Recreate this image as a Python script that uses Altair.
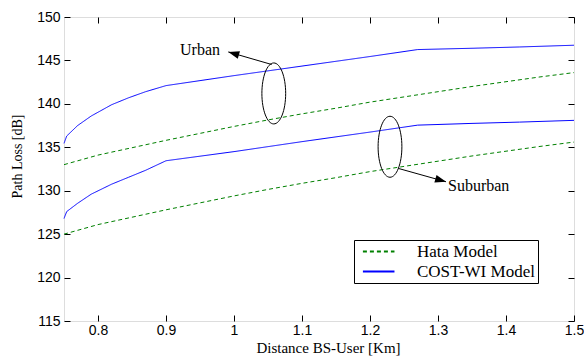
import altair as alt
import pandas as pd

# ---- data ----
dist_hata = [0.75, 0.8, 0.85, 0.9, 0.95, 1.0, 1.05, 1.1, 1.15, 1.2, 1.25, 1.3, 1.35, 1.4, 1.45, 1.5]
hata_urban = [133.0, 134.1, 134.95, 135.8, 136.6, 137.4, 138.15, 138.85, 139.5, 140.2, 140.8, 141.4, 142.0, 142.55, 143.1, 143.6]
hata_suburban = [125.0, 126.1, 126.95, 127.8, 128.6, 129.4, 130.15, 130.85, 131.5, 132.2, 132.8, 133.4, 134.0, 134.55, 135.1, 135.6]

dist_cost = [0.75, 0.754, 0.77, 0.79, 0.82, 0.845, 0.87, 0.9, 1.0, 1.1, 1.2, 1.27, 1.35, 1.42, 1.5]
cost_urban = [135.45, 136.3, 137.5, 138.6, 139.9, 140.7, 141.4, 142.1, 143.25, 144.35, 145.45, 146.25, 146.4, 146.55, 146.75]
cost_suburban = [126.8, 127.6, 128.55, 129.6, 130.75, 131.55, 132.35, 133.45, 134.5, 135.65, 136.75, 137.55, 137.75, 137.9, 138.1]

models = ["Hata Model", "COST-WI Model"]
model_colors = ["#008000", "#0000ff"]

x_ticks = [0.8, 0.9, 1.0, 1.1, 1.2, 1.3, 1.4, 1.5]
y_ticks = [115, 120, 125, 130, 135, 140, 145, 150]

# annotations (data units)
ann_text = ["Urban", "Suburban"]
ann_x = [0.9206, 1.3147]
ann_y = [146.25, 130.54]
ell_x = [1.0585, 1.2294]
ell_y = [141.2, 135.06]
arr_x = [1.0554, 1.2416]
arr_y = [144.53, 132.57]
arr_x2 = [0.9916, 1.3118]
arr_y2 = [145.98, 131.03]
arr_angle = [286, 106]

rows = []
for d, v in zip(dist_hata, hata_urban):
    rows.append({"d": d, "loss": v, "model": "Hata Model", "env": "Urban"})
for d, v in zip(dist_hata, hata_suburban):
    rows.append({"d": d, "loss": v, "model": "Hata Model", "env": "Suburban"})
for d, v in zip(dist_cost, cost_urban):
    rows.append({"d": d, "loss": v, "model": "COST-WI Model", "env": "Urban"})
for d, v in zip(dist_cost, cost_suburban):
    rows.append({"d": d, "loss": v, "model": "COST-WI Model", "env": "Suburban"})
df = pd.DataFrame(rows)

ann = pd.DataFrame({
    "text": ann_text, "tx": ann_x, "ty": ann_y,
    "ex": ell_x, "ey": ell_y,
    "ax": arr_x, "ay": arr_y, "ax2": arr_x2, "ay2": arr_y2, "angle": arr_angle,
})

xs = alt.Scale(domain=[0.75, 1.5], nice=False, zero=False)
ys = alt.Scale(domain=[115, 150], nice=False, zero=False)

x_axis = alt.Axis(
    values=x_ticks, format="~g", offset=-6, tickSize=6, domain=False, grid=False,
    labelFont="Liberation Sans", labelFontSize=14, labelColor="black", labelPadding=9,
    labelBaseline="middle", labelFlush=False, tickColor="black",
    title="Distance BS-User [Km]", titleFont="Liberation Serif", titleFontSize=15,
    titleFontWeight="normal", titleColor="black", titleX=264, titleY=32,
    titleBaseline="middle", titleAlign="center",
)
y_axis = alt.Axis(
    values=y_ticks, offset=-6, tickSize=6, domain=False, grid=False,
    labelFont="Liberation Sans", labelFontSize=14, labelColor="black", labelPadding=4,
    tickColor="black",
    title="Path Loss [dB]", titleFont="Liberation Serif", titleFontSize=14,
    titleFontWeight="normal", titleColor="black", titleX=-53, titleY=139,
    titleBaseline="middle", titleAlign="center", titleAngle=270,
)
x_top = alt.Axis(orient="top", values=x_ticks, offset=-6, tickSize=6, domain=False,
                 grid=False, labels=False, title=None, tickColor="black")
y_right = alt.Axis(orient="right", values=y_ticks, offset=-6, tickSize=6, domain=False,
                   grid=False, labels=False, title=None, tickColor="black")

legend = alt.Legend(
    title=None, orient="none", legendX=290, legendY=223,
    fillColor="white", strokeColor="black", padding=3, rowPadding=2,
    symbolType="M-0.37,0 L4.14,0", symbolSize=196, symbolStrokeWidth=2,
    labelFont="Liberation Serif", labelFontSize=17, labelColor="black",
    labelOffset=43,
)

lines = alt.Chart(df).mark_line(strokeWidth=1).encode(
    x=alt.X("d:Q", scale=xs, axis=x_axis),
    y=alt.Y("loss:Q", scale=ys, axis=y_axis),
    color=alt.Color("model:N", scale=alt.Scale(domain=models, range=model_colors), legend=legend),
    strokeDash=alt.StrokeDash("model:N", scale=alt.Scale(domain=models, range=[[4, 3], [1, 0]]), legend=legend),
    detail="env:N",
)

labels = alt.Chart(ann).mark_text(
    align="left", baseline="middle", font="Liberation Serif", fontSize=16, color="black"
).encode(
    x=alt.X("tx:Q", scale=xs, axis=x_top),
    y=alt.Y("ty:Q", scale=ys, axis=y_right),
    text="text:N",
)

ellipse_path = ("M0,-1 C0.2154,-1 0.39,-0.5523 0.39,0 C0.39,0.5523 0.2154,1 0,1 "
                "C-0.2154,1 -0.39,0.5523 -0.39,0 C-0.39,-0.5523 -0.2154,-1 0,-1 Z")
ellipses = alt.Chart(ann).mark_point(
    shape=ellipse_path, size=3720, filled=False, color="black", strokeWidth=1, opacity=1
).encode(
    x=alt.X("ex:Q", scale=xs, axis=None),
    y=alt.Y("ey:Q", scale=ys, axis=None),
)

arrows = alt.Chart(ann).mark_rule(color="black", strokeWidth=1).encode(
    x=alt.X("ax:Q", scale=xs, axis=None),
    y=alt.Y("ay:Q", scale=ys, axis=None),
    x2="ax2:Q", y2="ay2:Q",
)

heads = alt.Chart(ann).mark_point(
    shape="M0,0 L-0.36,1 L0.36,1 Z", size=484, filled=True, color="black", opacity=1
).encode(
    x=alt.X("ax2:Q", scale=xs, axis=None),
    y=alt.Y("ay2:Q", scale=ys, axis=None),
    angle=alt.Angle("angle:Q", scale=None),
)

chart = alt.layer(lines, labels, ellipses, arrows, heads).resolve_axis(
    x="independent", y="independent"
).properties(
    width=510, height=304,
    autosize=alt.AutoSizeParams(type="none"),
    padding={"left": 64, "top": 17, "right": 10, "bottom": 35},
).configure_view(stroke="#222", strokeWidth=1).configure(background="white")

chart.save("out.html", embed_options={"renderer": "svg", "actions": False})
